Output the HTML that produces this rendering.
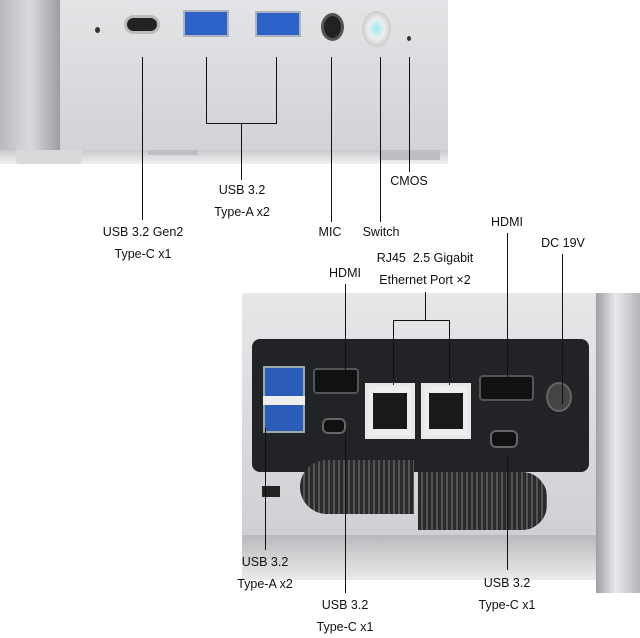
<!DOCTYPE html><html><head><style>
body{margin:0;width:640px;height:638px;background:#fff;position:relative;overflow:hidden;font-family:"Liberation Sans",sans-serif;}
div{position:absolute;box-sizing:border-box}
.l{background:#111}
.t{font-size:12.5px;color:#111;text-align:center;width:140px;line-height:22px;white-space:nowrap}
</style></head><body>
<!-- top device -->
<div style="left:0;top:0;width:448px;height:150px;background:linear-gradient(#e3e4e6,#d2d3d6)"></div>
<div style="left:0;top:0;width:60px;height:150px;background:linear-gradient(90deg,#b8babd,#d9dadd 50%,#9c9ea2)"></div>
<div style="left:0;top:150px;width:448px;height:14px;background:linear-gradient(#c9cacd,#f0f0f1)"></div>
<div style="left:16px;top:150px;width:66px;height:14px;background:#d8d9db;border-radius:0 0 3px 3px"></div>
<div style="left:148px;top:150px;width:50px;height:5px;background:#bdbec1"></div>
<div style="left:380px;top:150px;width:60px;height:10px;background:#bdbec1"></div>
<div style="left:95px;top:27px;width:5px;height:6px;background:#333;border-radius:50%"></div>
<div style="left:124px;top:15px;width:36px;height:19px;border:3px solid #bbb;background:#222;border-radius:10px"></div>
<div style="left:183px;top:10px;width:46px;height:27px;background:#2d62c8;border:2px solid #aeb3bd"></div>
<div style="left:255px;top:11px;width:46px;height:26px;background:#2d62c8;border:2px solid #aeb3bd"></div>
<div style="left:321px;top:13px;width:23px;height:28px;background:#222;border-radius:50%;border:3px solid #555"></div>
<div style="left:362px;top:11px;width:29px;height:36px;background:radial-gradient(#9ee,#eee 40%,#aaa);border-radius:50%"></div>
<div style="left:407px;top:36px;width:4px;height:5px;background:#333;border-radius:50%"></div>
<!-- top lines -->
<div class="l" style="left:142px;top:57px;width:1px;height:163px"></div>
<div class="l" style="left:206px;top:57px;width:1px;height:66px"></div>
<div class="l" style="left:276px;top:57px;width:1px;height:66px"></div>
<div class="l" style="left:206px;top:123px;width:71px;height:1px"></div>
<div class="l" style="left:241px;top:123px;width:1px;height:57px"></div>
<div class="l" style="left:331px;top:57px;width:1px;height:165px"></div>
<div class="l" style="left:380px;top:57px;width:1px;height:165px"></div>
<div class="l" style="left:409px;top:57px;width:1px;height:115px"></div>
<div class="t" style="left:73px;top:221px">USB 3.2 Gen2</div>
<div class="t" style="left:73px;top:243px">Type-C x1</div>
<div class="t" style="left:172px;top:179px">USB 3.2</div>
<div class="t" style="left:172px;top:201px">Type-A x2</div>
<div class="t" style="left:260px;top:221px">MIC</div>
<div class="t" style="left:311px;top:221px">Switch</div>
<div class="t" style="left:339px;top:170px">CMOS</div>
<!-- bottom device -->
<div style="left:242px;top:293px;width:398px;height:242px;background:linear-gradient(#e6e7e9,#cfd0d3);border-radius:4px 0 0 0"></div>
<div style="left:596px;top:293px;width:44px;height:300px;background:linear-gradient(90deg,#9fa1a5,#e8e9eb 45%,#b4b6b9)"></div>
<div style="left:242px;top:535px;width:354px;height:45px;background:linear-gradient(#b8b9bc,#ebebec)"></div>
<div style="left:252px;top:339px;width:337px;height:133px;background:#222326;border-radius:8px"></div>
<div style="left:263px;top:366px;width:42px;height:67px;background:#2b5cb8;border:2px solid #9aa"></div>
<div style="left:263px;top:396px;width:42px;height:9px;background:#eee"></div>
<div style="left:313px;top:368px;width:46px;height:26px;background:#111;border:2px solid #555;border-radius:4px"></div>
<div style="left:479px;top:375px;width:55px;height:26px;background:#111;border:2px solid #555;border-radius:4px"></div>
<div style="left:365px;top:383px;width:50px;height:56px;background:#eee;border:4px solid #e8e8e8"><div style="left:4px;top:6px;width:34px;height:36px;background:#1a1a1a"></div></div>
<div style="left:421px;top:383px;width:50px;height:56px;background:#eee;border:4px solid #e8e8e8"><div style="left:4px;top:6px;width:34px;height:36px;background:#1a1a1a"></div></div>
<div style="left:322px;top:418px;width:24px;height:16px;background:#111;border:2px solid #666;border-radius:6px"></div>
<div style="left:490px;top:430px;width:28px;height:18px;background:#111;border:2px solid #666;border-radius:6px"></div>
<div style="left:546px;top:382px;width:26px;height:30px;background:#444;border-radius:50%;border:2px solid #666"></div>
<div style="left:300px;top:460px;width:114px;height:54px;background:repeating-linear-gradient(90deg,#2a2a2c 0 3px,#555 3px 5px);border-radius:27px 0 0 27px"></div>
<div style="left:418px;top:472px;width:129px;height:58px;background:repeating-linear-gradient(90deg,#2a2a2c 0 3px,#555 3px 5px);border-radius:0 25px 25px 0"></div>
<div style="left:262px;top:486px;width:18px;height:11px;background:#222"></div>
<!-- bottom lines -->
<div class="l" style="left:345px;top:284px;width:1px;height:95px"></div>
<div class="l" style="left:425px;top:292px;width:1px;height:28px"></div>
<div class="l" style="left:393px;top:320px;width:57px;height:1px"></div>
<div class="l" style="left:393px;top:320px;width:1px;height:65px"></div>
<div class="l" style="left:449px;top:320px;width:1px;height:65px"></div>
<div class="l" style="left:507px;top:233px;width:1px;height:152px"></div>
<div class="l" style="left:562px;top:254px;width:1px;height:150px"></div>
<div class="l" style="left:265px;top:428px;width:1px;height:122px"></div>
<div class="l" style="left:345px;top:433px;width:1px;height:160px"></div>
<div class="l" style="left:507px;top:455px;width:1px;height:115px"></div>
<div class="t" style="left:275px;top:262px">HDMI</div>
<div class="t" style="left:355px;top:247px">RJ45&nbsp;&nbsp;2.5 Gigabit</div>
<div class="t" style="left:355px;top:269px">Ethernet Port ×2</div>
<div class="t" style="left:437px;top:211px">HDMI</div>
<div class="t" style="left:493px;top:232px">DC 19V</div>
<div class="t" style="left:195px;top:551px">USB 3.2</div>
<div class="t" style="left:195px;top:573px">Type-A x2</div>
<div class="t" style="left:275px;top:594px">USB 3.2</div>
<div class="t" style="left:275px;top:616px">Type-C x1</div>
<div class="t" style="left:437px;top:572px">USB 3.2</div>
<div class="t" style="left:437px;top:594px">Type-C x1</div>
</body></html>
